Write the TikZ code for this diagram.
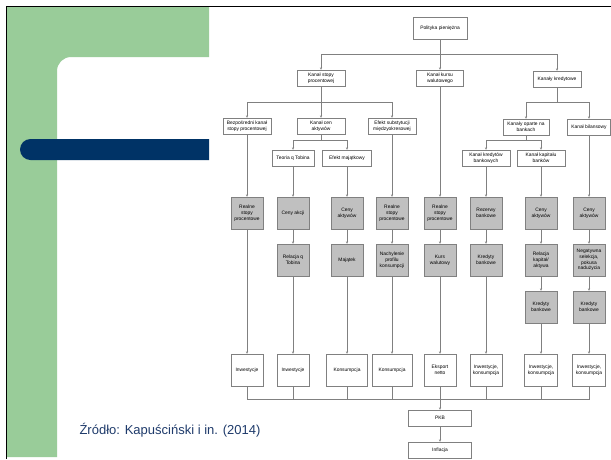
\documentclass[tikz,border=0pt]{standalone}
\usepackage{fontspec}
\setmainfont{Liberation Sans}
\usetikzlibrary{arrows.meta}

\definecolor{slidegreen}{HTML}{99CC99}
\definecolor{slideblue}{HTML}{003366}
\definecolor{srcblue}{HTML}{1F3B6B}
\definecolor{boxgray}{HTML}{C0C0C0}
\definecolor{linegray}{HTML}{808080}

\tikzset{
  box/.style={draw=linegray, fill=white, align=center, inner sep=1pt,
    line width=0.5pt, minimum height=16pt,
    font=\fontsize{4.9}{5.8}\selectfont},
  gbox/.style={box, fill=boxgray, minimum width=32pt, minimum height=32pt},
  conn/.style={draw=linegray, line width=0.5pt},
  arr/.style={conn, -{Stealth[length=2.4pt,width=2.2pt]}}
}

\begin{document}
\begin{tikzpicture}[x=1pt,y=-1pt]
    \useasboundingbox (0,0) rectangle (611,459);
    % slide background
    \fill[white] (0,0) rectangle (611,459);
    \fill[slidegreen] (7,7) -- (209,7) -- (209,57) [rounded corners=14] -- (57,57)
      [sharp corners] -- (57,457) -- (7,457) -- cycle;
    \fill[slideblue] (209,139) -- (209,160) -- (30.5,160)
      arc[start angle=90, end angle=270, radius=10.5] -- cycle;
    \draw[line width=1.5pt] (6.5,459) -- (6.5,6.5) -- (611,6.5);
    \node[anchor=base west, text=srcblue, font=\fontsize{13}{15}\selectfont]
      (src) at (76,434) {Źródło: Kapuściński i in. (2014)};

    % upper part
    \node[box, minimum width=54pt, minimum height=22pt] (pol) at (440,28) {Polityka pieniężna};
    \node[box, minimum width=48pt] (kst) at (321,78) {Kanał stopy\\procentowej};
    \node[box, minimum width=47pt] (kku) at (440,78) {Kanał kursu\\walutowego};
    \node[box, minimum width=48pt] (kkr) at (557,79) {Kanały kredytowe};
    \node[box, minimum width=48pt] (bezp) at (247,126) {Bezpośredni kanał\\stopy procentowej};
    \node[box, minimum width=48pt] (kca) at (321,126) {Kanał cen\\aktywów};
    \node[box, minimum width=48pt] (efs) at (392,126) {Efekt substytucji\\międzyokresowej};
    \node[box, minimum width=46pt] (kob) at (526,127) {Kanały oparte na\\bankach};
    \node[box, minimum width=43pt] (kbil) at (589,127) {Kanał bilansowy};
    \node[box, minimum width=42pt] (tob) at (293,158) {Teoria q Tobina};
    \node[box, minimum width=49pt] (emj) at (347,158) {Efekt majątkowy};
    \node[box, minimum width=48pt] (kkb) at (486,158) {Kanał kredytów\\bankowych};
    \node[box, minimum width=48pt] (kkap) at (541,158) {Kanał kapitału\\banków};

    % gray boxes
    \node[gbox] (rs1) at (247,213) {Realne\\stopy\\procentowe};
    \node[gbox] (cak) at (293,213) {Ceny akcji};
    \node[gbox] (cakt) at (347,213) {Ceny\\aktywów};
    \node[gbox] (rs2) at (392,213) {Realne\\stopy\\procentowe};
    \node[gbox] (rs3) at (440,213) {Realne\\stopy\\procentowe};
    \node[gbox] (rez) at (486,213) {Rezerwy\\bankowe};
    \node[gbox] (cakt2) at (541,213) {Ceny\\aktywów};
    \node[gbox] (cakt3) at (589,213) {Ceny\\aktywów};
    \node[gbox] (rqt) at (293,260) {Relacja q\\Tobina};
    \node[gbox] (maj) at (347,260) {Majątek};
    \node[gbox] (nach) at (392,260) {Nachylenie\\profilu\\konsumpcji};
    \node[gbox] (kurs) at (440,260) {Kurs\\walutowy};
    \node[gbox] (kred1) at (486,260) {Kredyty\\bankowe};
    \node[gbox] (rel) at (541,260) {Relacja\\kapitał/\\aktywa};
    \node[gbox] (neg) at (589,260) {Negatywna\\selekcja,\\pokusa\\nadużycia};
    \node[gbox] (kred2) at (541,307) {Kredyty\\bankowe};
    \node[gbox] (kred3) at (589,307) {Kredyty\\bankowe};

    % effects
    \node[box, minimum width=32pt, minimum height=32pt] (inv1) at (247,370) {Inwestycje};
    \node[box, minimum width=32pt, minimum height=32pt] (inv2) at (293,370) {Inwestycje};
    \node[box, minimum width=41pt, minimum height=32pt] (kon1) at (347,370) {Konsumpcja};
    \node[box, minimum width=40pt, minimum height=32pt] (kon2) at (392,370) {Konsumpcja};
    \node[box, minimum width=32pt, minimum height=32pt] (eks) at (440,370) {Eksport\\netto};
    \node[box, minimum width=32pt, minimum height=32pt] (ik1) at (486,370) {Inwestycje,\\konsumpcja};
    \node[box, minimum width=33pt, minimum height=32pt] (ik2) at (541,370) {Inwestycje,\\konsumpcja};
    \node[box, minimum width=33pt, minimum height=32pt] (ik3) at (589,370) {Inwestycje,\\konsumpcja};
    \node[box, minimum width=63pt] (pkb) at (440,418) {PKB};
    \node[box, minimum width=63pt] (inf) at (440,450) {Inflacja};

    % branches
    \coordinate (j1) at (440,54);
    \coordinate (j2) at (321,102);
    \coordinate (j3) at (557,102);
    \coordinate (j4) at (321,140);
    \coordinate (j5) at (526,140);
    \coordinate (j6) at (440,399);
    \draw[conn] (pol) -- (j1) (kst) -- (j2) (kkr) -- (j3) (kca) -- (j4) (kob) -- (j5);
    \draw[arr] (j1) -| (kst);
    \draw[arr] (j1) -- (kku);
    \draw[arr] (j1) -| (kkr);
    \draw[arr] (j2) -| (bezp);
    \draw[arr] (j2) -- (kca);
    \draw[arr] (j2) -| (efs);
    \draw[arr] (j3) -| (kob);
    \draw[arr] (j3) -| (kbil);
    \draw[arr] (j4) -| (tob);
    \draw[arr] (j4) -| (emj);
    \draw[arr] (j5) -| (kkb);
    \draw[arr] (j5) -| (kkap);

    % columns
    \foreach \a/\b in {bezp/rs1, rs1/inv1, tob/cak, cak/rqt, rqt/inv2,
        emj/cakt, cakt/maj, maj/kon1, efs/rs2, rs2/nach, nach/kon2,
        kku/rs3, rs3/kurs, kurs/eks, kkb/rez, rez/kred1, kred1/ik1,
        kkap/cakt2, cakt2/rel, rel/kred2, kred2/ik2,
        kbil/cakt3, cakt3/neg, neg/kred3, kred3/ik3}
      \draw[arr] (\a) -- (\b);

    % bottom
    \foreach \n in {inv1, inv2, kon1, kon2, ik1, ik2, ik3}
      \draw[conn] (\n.south) |- (j6);
    \draw[arr] (eks) -- (pkb);
    \draw[arr] (pkb) -- (inf);
\end{tikzpicture}
\end{document}
